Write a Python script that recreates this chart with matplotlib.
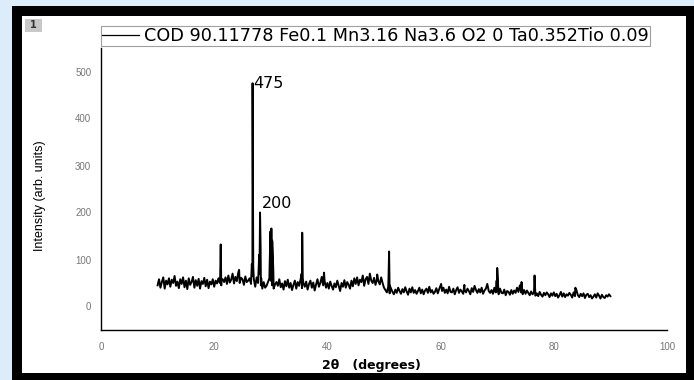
import numpy as np
import matplotlib.pyplot as plt
from matplotlib.patches import Rectangle

# background trace, read every 0.25 deg from 10 to 90
bg_start = 10.0
bg_step = 0.25
background = [
    45, 58, 40, 52, 62, 38, 55, 47, 60, 42, 57, 50, 65, 44, 53, 39,
    58, 48, 62, 41, 55, 37, 60, 46, 52, 63, 40, 56, 44, 59, 38, 54,
    48, 61, 43, 57, 39, 53, 47, 58, 42, 55, 49, 60, 50, 45, 58, 52,
    62, 48, 66, 51, 57, 70, 49, 63, 54, 72, 50, 61, 58, 46, 64, 52,
    55, 60, 48, 65, 58, 42, 62, 50, 70, 45, 38, 52, 40, 44, 52, 60,
    55, 45, 38, 47, 52, 44, 58, 41, 49, 36, 54, 43, 57, 40, 50, 35,
    46, 55, 38, 52, 44, 57, 39, 50, 42, 53, 36, 48, 55, 40, 51, 34,
    47, 58, 42, 50, 63, 45, 55, 40, 50, 38, 53, 44, 36, 49, 41, 55,
    44, 33, 50, 42, 56, 40, 52, 46, 38, 55, 43, 60, 48, 62, 45, 57,
    52, 66, 44, 58, 63, 48, 70, 55, 50, 61, 46, 58, 54, 47, 62, 50,
    40, 35, 30, 42, 28, 38, 31, 26, 36, 29, 40, 33, 27, 37, 30, 41,
    32, 25, 38, 30, 41, 29, 35, 27, 33, 40, 28, 36, 26, 34, 38, 29,
    42, 30, 35, 27, 31, 39, 28, 37, 45, 33, 40, 29, 36, 28, 42, 31,
    30, 38, 26, 35, 41, 29, 36, 32, 27, 35, 30, 38, 33, 26, 39, 31,
    44, 35, 29, 37, 30, 40, 27, 34, 38, 48, 33, 29, 35, 27, 40, 30,
    32, 26, 38, 29, 28, 36, 24, 33, 31, 25, 35, 27, 34, 29, 40, 31,
    45, 30, 26, 35, 27, 34, 29, 24, 32, 26, 30, 23, 28, 22, 31, 25,
    21, 29, 24, 30, 26, 20, 28, 23, 30, 22, 27, 19, 24, 31, 21, 28,
    20, 26, 23, 29, 25, 19, 30, 22, 35, 24, 20, 27, 22, 28, 18, 25,
    27, 20, 24, 17, 21, 26, 19, 28, 23, 17, 25, 20, 18, 24, 21, 26,
    22,
]

# reflections (2theta, intensity)
peak_pos = [21.05, 21.15, 21.25, 24.4, 26.65, 26.78, 26.9, 27.95, 28.1, 28.2, 28.3,
            29.8, 29.95, 30.1, 30.25, 30.45, 35.45, 35.55, 35.65, 39.4, 48.8,
            50.8, 50.9, 51.0, 60.1, 64.2, 69.9, 70.0, 74.3, 76.6, 76.7, 83.8]
peak_int = [60, 132, 55, 78, 90, 475, 85, 110, 200, 125, 60,
            90, 160, 166, 140, 75, 70, 157, 60, 72, 68,
            60, 117, 45, 48, 46, 55, 82, 52, 66, 40, 40]

tt_bg = bg_start + bg_step * np.arange(len(background))
tt = np.concatenate([tt_bg, peak_pos])
inten = np.concatenate([background, peak_int])
order = np.argsort(tt, kind='stable')
tt, inten = tt[order], inten[order]

fig = plt.figure(figsize=(6.94, 3.80), dpi=100)
fig.patch.set_facecolor('#dcecf8')
W, H = 694, 380
# black frame and white panel
fig.patches.append(Rectangle((12 / W, 0), 1 - 12 / W, 1 - 6 / H, transform=fig.transFigure,
                             facecolor='black', edgecolor='none', zorder=-3))
fig.patches.append(Rectangle((22 / W, 7 / H), 664 / W, 357 / H, transform=fig.transFigure,
                             facecolor='white', edgecolor='none', zorder=-2))
fig.patches.append(Rectangle((25 / W, 348 / H), 17 / W, 13 / H, transform=fig.transFigure,
                             facecolor='#c8c8c8', edgecolor='none', zorder=-1))
fig.text(33 / W, 354.5 / H, '1', fontsize=7, ha='center', va='center', color='#333333',
         family='DejaVu Sans', weight='bold')

ax = fig.add_axes([101 / W, 50 / H, 566 / W, 282 / H])
ax.set_zorder(2)
ax.set_facecolor('none')
ax.plot(tt, inten, color='black', lw=1.4, label='COD 90.11778 Fe0.1 Mn3.16 Na3.6 O2 0 Ta0.352Tio 0.09')

ax.text(26.95, 475, '475', fontsize=11.5, ha='left', va='center', family='DejaVu Sans')
ax.text(28.35, 203, '200', fontsize=11.5, ha='left', va='bottom', family='DejaVu Sans')

ax.set_xlim(0, 100)
ax.set_ylim(-50, 550)
ax.set_xticks([0, 20, 40, 60, 80, 100])
ax.set_yticks([0, 100, 200, 300, 400, 500])
ax.tick_params(length=0, labelsize=7, labelcolor='#777777', pad=7)
ax.tick_params(axis='x', pad=9)
for lab in ax.get_xticklabels() + ax.get_yticklabels():
    lab.set_family('Liberation Sans')
ax.spines['top'].set_visible(False)
ax.spines['right'].set_visible(False)
ax.spines['left'].set_linewidth(1.0)
ax.spines['bottom'].set_linewidth(1.0)

ax.set_ylabel('Intensity (arb. units)', fontsize=9, family='Liberation Sans')
ax.yaxis.set_label_coords(-0.097, 0.475)
ax.set_xlabel('2θ   (degrees)', fontsize=9, family='DejaVu Sans', weight='bold')
ax.xaxis.set_label_coords(0.477, -0.103)

leg = ax.legend(loc='lower left', bbox_to_anchor=(0.0, 1.007), frameon=True, fancybox=False,
                borderpad=0.05, handlelength=2.1, handletextpad=0.3, borderaxespad=0,
                prop={'family': 'DejaVu Sans', 'size': 12.7})
leg.get_frame().set_edgecolor('#888888')
leg.get_frame().set_linewidth(0.8)
for h in leg.get_lines():
    h.set_linewidth(0.9)

fig.savefig('out.png', dpi=100, facecolor=fig.get_facecolor())
